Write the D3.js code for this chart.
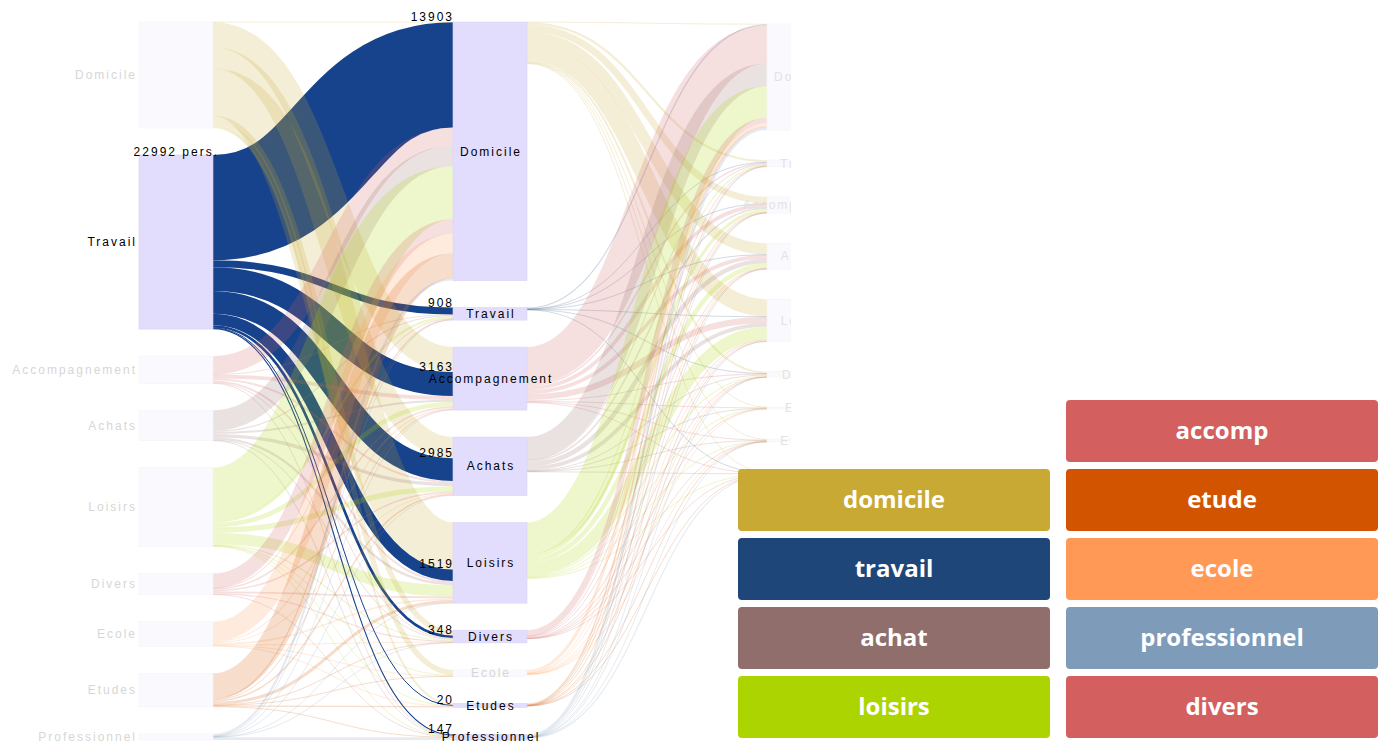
<!DOCTYPE html>
<html><head><meta charset="utf-8">
<script src="https://cdn.jsdelivr.net/npm/d3@7"></script>
<style>
html,body{margin:0;padding:0;background:#fff;}
svg{display:block;}
</style></head><body>
<svg id="chart" width="1383" height="746"></svg>
<script>
// ---------- DATA ----------
const nodeNames   = ["Domicile","Travail","Accompagnement","Achats","Loisirs","Divers","Ecole","Etudes","Professionnel"];
const nodeMotives = ["domicile","travail","accomp","achat","loisirs","divers","ecole","etude","professionnel"];
const motiveNames  = ["domicile","travail","accomp","achat","loisirs","divers","ecole","etude","professionnel"];
const motiveColors = ["#c8a934","#1f4679","#d35f5f","#8f6e6b","#acd400","#d35f5f","#ff9955","#d35400","#7f9bba"];

const selectedName  = "Travail";
const selectedTotal = 22992;

// step 1 : left motive -> middle motive (order of nodeNames)
const fromDomicile       = [40, 0, 3300, 2800, 6200, 700, 700, 250, 0];
const fromTravail        = [13903, 908, 3163, 2985, 1519, 348, 0, 20, 147];
const fromAccompagnement = [2400, 50, 500, 250, 250, 100, 0, 0, 50];
const fromAchats         = [2700, 150, 250, 450, 300, 100, 0, 0, 40];
const fromLoisirs        = [7000, 300, 600, 700, 1500, 150, 50, 50, 60];
const fromDivers         = [1900, 60, 200, 200, 250, 150, 0, 0, 40];
const fromEcole          = [2600, 0, 150, 100, 200, 50, 100, 50, 0];
const fromEtudes         = [3300, 150, 100, 200, 400, 60, 20, 150, 50];
const fromProfessionnel  = [300, 30, 50, 30, 30, 20, 0, 0, 350];

// step 2 : middle motive -> right motive
const midDomicile       = [40, 300, 900, 1500, 2300, 250, 50, 100, 100];
const midTravail        = [150, 30, 20, 30, 40, 10, 0, 0, 20];
const midAccompagnement = [5000, 200, 500, 500, 800, 150, 80, 50, 100];
const midAchats         = [3000, 100, 200, 600, 500, 80, 30, 50, 60];
const midLoisirs        = [4200, 150, 400, 600, 1700, 150, 50, 100, 80];
const midDivers         = [700, 50, 80, 100, 100, 50, 20, 20, 30];
const midEcole          = [400, 0, 30, 50, 100, 20, 30, 10, 0];
const midEtudes         = [200, 20, 20, 20, 50, 10, 0, 20, 10];
const midProfessionnel  = [300, 50, 20, 20, 20, 10, 0, 10, 150];

const legendLeft  = ["domicile","travail","achat","loisirs"];
const legendRight = ["accomp","etude","ecole","professionnel","divers"];

// ---------- LAYOUT ----------
const step1 = [fromDomicile, fromTravail, fromAccompagnement, fromAchats, fromLoisirs, fromDivers, fromEcole, fromEtudes, fromProfessionnel];
const step2 = [midDomicile, midTravail, midAccompagnement, midAchats, midLoisirs, midDivers, midEcole, midEtudes, midProfessionnel];
const color = d3.scaleOrdinal().domain(motiveNames).range(motiveColors);

const yStart = 22, yEnd = 740, H = yEnd - yStart;
const nodeWidth = 74, leftPad = 27, rightPad = 30;
const xCol = d3.scalePoint().domain([0,1,2]).range([139, 767]);
const n = nodeNames.length;

const cols = [0,1,2].map(c => nodeNames.map((name,i) => ({name, i, col:c, motive:nodeMotives[i], ins:[], outs:[]})));
const links = [];
function addLinks(rows, c) {
  rows.forEach((row, s) => row.forEach((v, t) => {
    if (v > 0) {
      const l = {source: cols[c][s], target: cols[c+1][t], value: v, step: c};
      links.push(l); cols[c][s].outs.push(l); cols[c+1][t].ins.push(l);
    }
  }));
}
addLinks(step1, 0); addLinks(step2, 1);
cols.flat().forEach(d => d.value = Math.max(d3.sum(d.ins, l => l.value), d3.sum(d.outs, l => l.value)));

const leftSum = d3.sum(cols[0], d => d.value);
const ky = d3.scaleLinear().domain([0, leftSum]).range([0, H - (n-1)*leftPad]);
const midSum = d3.sum(cols[1], d => d.value);
const pads = [leftPad, (H - ky(midSum)) / (n-1), rightPad];
const starts = [yStart, yStart, yStart + 2];
cols.forEach((col, c) => {
  let y = starts[c];
  col.forEach(d => {
    d.x0 = xCol(c); d.x1 = d.x0 + nodeWidth;
    d.y0 = y; d.y1 = y + ky(d.value); y = d.y1 + pads[c];
  });
});
cols.flat().forEach(d => {
  let y = d.y0;
  d.outs.sort((a,b) => a.target.y0 - b.target.y0).forEach(l => { l.w = ky(l.value); l.sy = y + l.w/2; l.sTop = y; y += l.w; });
});
cols.flat().forEach(d => {
  let y = d.y0;
  d.ins.sort((a,b) => a.source.y0 - b.source.y0).forEach(l => { l.ty = y + l.w/2; l.tTop = y; y += l.w; });
});

const sel = cols[0].find(d => d.name === selectedName);
const hlNodes = new Set([sel, ...sel.outs.map(l => l.target)]);

// ---------- DRAW ----------
const svg = d3.select("#chart");
svg.append("defs").append("clipPath").attr("id","clip")
  .append("rect").attr("x",0).attr("y",0).attr("width",791).attr("height",746);
const g = svg.append("g").attr("clip-path","url(#clip)");

const linkGen = d3.linkHorizontal().source(l => [l.source.x1, l.sy]).target(l => [l.target.x0, l.ty]);
const hlLinks = links.filter(l => l.source === sel);
const fadedLinks = links.filter(l => l.source !== sel);

g.append("g").selectAll("path").data(hlLinks).join("path")
  .attr("d", linkGen).attr("fill","none")
  .attr("stroke","#17438d")
  .attr("stroke-width", l => Math.max(1, l.w));
g.append("g").selectAll("path").data(fadedLinks).join("path")
  .attr("d", linkGen).attr("fill","none")
  .attr("stroke", l => color(l.source.motive)).attr("stroke-opacity",0.2)
  .attr("stroke-width", l => Math.max(1, l.w));

g.append("g").selectAll("rect").data(cols.flat()).join("rect")
  .attr("x", d => d.x0).attr("y", d => d.y0)
  .attr("width", nodeWidth).attr("height", d => Math.max(1, d.y1 - d.y0))
  .attr("fill", d => hlNodes.has(d) ? "#e2ddfc" : "#fafafe")
  .attr("stroke", d => hlNodes.has(d) ? "#d9d3f6" : "#f4f4f8")
  .attr("stroke-width", 0.6);

const txt = g.append("g").attr("font-family","'Liberation Sans', Arial, sans-serif")
  .attr("font-size","12px").attr("letter-spacing","2px");

txt.selectAll("text.l0").data(cols[0]).join("text").attr("class","l0")
  .attr("x", d => d.x0 - 2).attr("y", d => (d.y0+d.y1)/2).attr("dy","0.35em")
  .attr("text-anchor","end")
  .attr("fill", d => hlNodes.has(d) ? "#000" : "#d6d6d6")
  .text(d => d.name);
txt.selectAll("text.l12").data(cols[1].concat(cols[2])).join("text").attr("class","l12")
  .attr("x", d => (d.x0+d.x1)/2 + 1).attr("y", d => (d.y0+d.y1)/2).attr("dy","0.35em")
  .attr("text-anchor","middle")
  .attr("fill", d => hlNodes.has(d) ? "#000" : (d.col === 2 ? "#e2e2e2" : "#d6d6d6"))
  .text(d => d.name);
txt.selectAll("text.val").data(hlLinks).join("text").attr("class","val")
  .attr("x", l => l.target.x0 + 1).attr("y", l => l.tTop - 1)
  .attr("text-anchor","end").attr("fill","#000")
  .text(l => l.value);
txt.append("text").attr("x", sel.x1 + 6).attr("y", sel.y0 + 1)
  .attr("text-anchor","end").attr("fill","#000")
  .text(selectedTotal + " pers.");

// legend
const legW = 312, legH = 62, legStep = 69;
const legX = d3.scalePoint().domain(["L","R"]).range([738, 1066]);
const legItems = legendLeft.map((m,i) => ({m, col:"L", row:i+1}))
  .concat(legendRight.map((m,i) => ({m, col:"R", row:i})));
const legY = d3.scaleLinear().domain([0,1]).range([400, 400 + legStep]);
const lg = svg.append("g").selectAll("g").data(legItems).join("g")
  .attr("transform", d => `translate(${legX(d.col)},${legY(d.row)})`);
lg.append("rect").attr("width", legW).attr("height", legH).attr("rx",4)
  .attr("fill", d => color(d.m));
lg.append("text").attr("x", legW/2).attr("y", legH/2).attr("dy","0.35em")
  .attr("text-anchor","middle").attr("fill","#fff")
  .attr("font-family","'Open Sans', sans-serif").attr("font-weight","bold")
  .attr("font-size","24px")
  .text(d => d.m);
</script>
</body></html>
